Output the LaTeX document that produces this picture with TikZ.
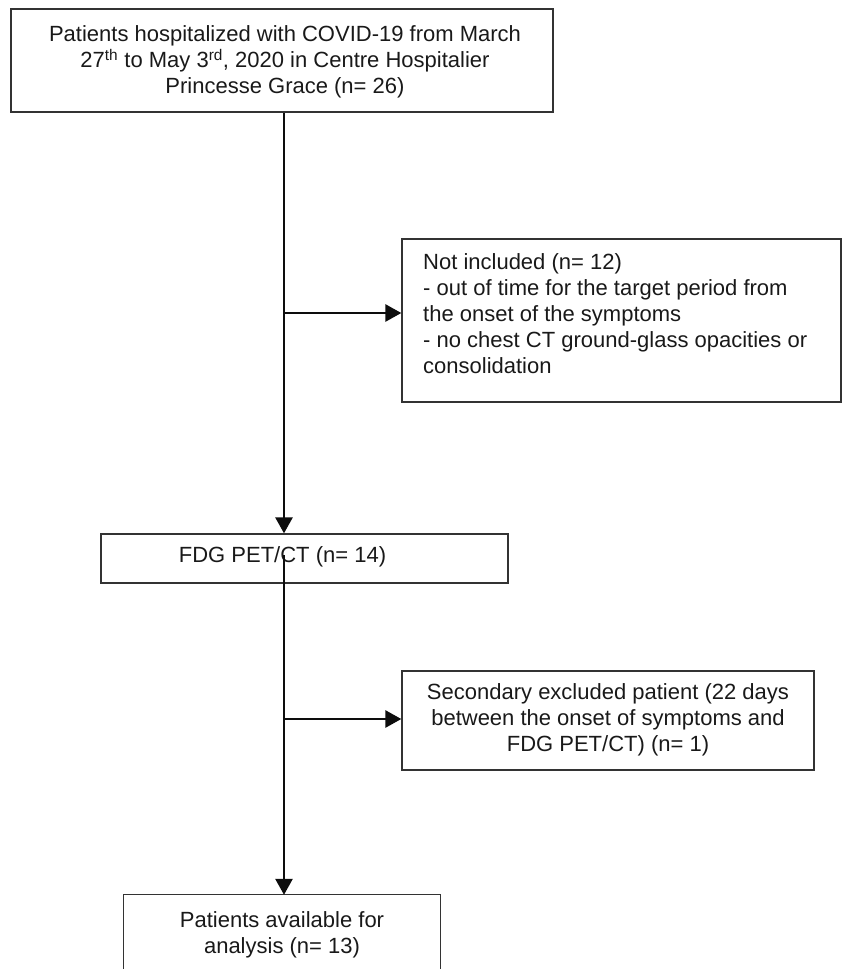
\documentclass[tikz,border=0pt]{standalone}
\usepackage{fontspec}
\setmainfont{Liberation Sans}
\usetikzlibrary{arrows.meta}
\tikzset{
  boxshape/.style={draw=black!80, line width=1.3pt, rectangle, inner sep=0pt},
  txt/.style={font=\fontsize{22}{26}\selectfont, text=black!90, inner sep=0pt},
  flow/.style={draw=black!95, line width=2.7pt, -{Triangle[length=16pt,width=17pt]}},
}
\begin{document}
\begin{tikzpicture}[x=1pt,y=-1pt]
\useasboundingbox (0,0) rectangle (842,969);
% boxes
\node[boxshape, minimum width=542pt, minimum height=103pt] (top) at (282,60.5) {};
\node[txt, align=center] (toptxt) at (285,62) {Patients hospitalized with COVID-19 from March\\27\textsuperscript{th} to May 3\textsuperscript{rd}, 2020 in Centre Hospitalier\\Princesse Grace (n= 26)};
\node[boxshape, minimum width=439pt, minimum height=163pt] (ni) at (621.5,320.5) {};
\node[txt, align=left, anchor=north west] (nitxt) at (423,253.5) {Not included (n= 12)\\- out of time for the target period from\\the onset of the symptoms\\- no chest CT ground-glass opacities or\\consolidation};
\node[boxshape, minimum width=407pt, minimum height=49pt] (fdg) at (304.5,558.5) {};
\node[txt] (fdgtxt) at (282.5,557) {FDG PET/CT (n= 14)};
\node[boxshape, minimum width=412pt, minimum height=99pt] (se) at (608,720.5) {};
\node[txt, align=center] (setxt) at (608,720) {Secondary excluded patient (22 days\\between the onset of symptoms and\\FDG PET/CT) (n= 1)};
\node[minimum width=316pt, minimum height=74pt, inner sep=0pt] (bb) at (282,932) {};
\draw[draw=black!80, line width=1.3pt] (bb.south west) -- (bb.north west) -- (bb.north east) -- (bb.south east);
\node[txt, align=center] (bbtxt) at (282,935) {Patients available for\\analysis (n= 13)};
% connectors
\coordinate (spine) at (284,0);
\coordinate (b1) at (284,313);
\coordinate (s2) at (284,555);
\coordinate (b2) at (284,719);
\draw[flow] (top.south -| spine) -- (fdg.north -| spine);
\draw[flow] (b1) -- (b1 -| ni.west);
\draw[flow] (s2) -- (s2 |- bb.north);
\draw[flow] (b2) -- (b2 -| se.west);
\end{tikzpicture}
\end{document}
